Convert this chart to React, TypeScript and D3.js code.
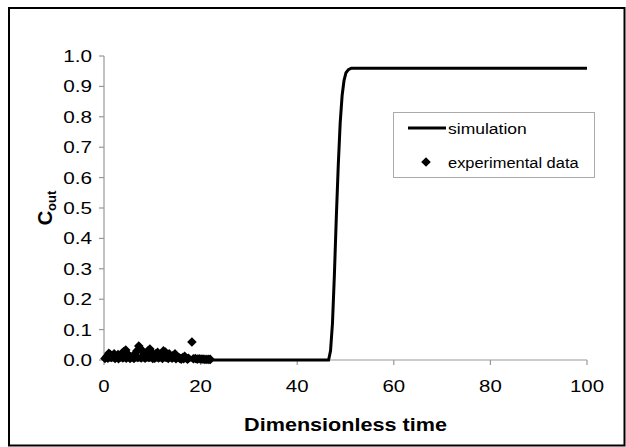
import * as d3 from "d3";
import React from "react";

// simulated outlet concentration
const simTime = [0, 46.5, 46.9, 47.3, 47.7, 48.1, 48.5, 48.9, 49.3, 49.7, 50.1, 50.6, 51.2, 100];
const simValue = [0, 0, 0.03, 0.12, 0.28, 0.47, 0.64, 0.78, 0.87, 0.92, 0.945, 0.955, 0.96, 0.96];

// experimental points
const expTime = [
  0.2, 0.6, 1.0, 1.3, 1.7, 2.1, 2.5, 2.9, 3.3, 3.7, 4.1, 4.5, 4.8, 5.2, 5.6, 6.0, 6.4, 6.8,
  7.2, 7.5, 7.9, 8.3, 8.7, 9.1, 9.5, 9.9, 10.3, 10.7, 11.1, 11.5, 11.9, 12.3, 12.7, 13.1,
  13.5, 13.9, 14.3, 14.7, 15.1, 15.5, 15.9, 16.3, 16.7, 17.1, 17.5, 18.2, 18.5, 18.9, 19.3,
  19.7, 20.1, 20.5, 20.9, 21.3, 21.7, 22.0, 0.8, 1.5, 2.3, 3.0, 3.9, 4.6, 5.4, 6.2, 7.0,
  7.7, 8.5, 9.3, 10.1, 10.5, 11.3, 12.1, 12.9, 13.3, 14.1, 14.9, 15.7, 16.0, 16.5, 17.3,
];
const expValue = [
  0.005, 0.012, 0.022, 0.018, 0.015, 0.02, 0.012, 0.018, 0.01, 0.022, 0.028, 0.033, 0.02,
  0.015, 0.01, 0.012, 0.02, 0.03, 0.046, 0.038, 0.03, 0.022, 0.02, 0.03, 0.036, 0.025, 0.015,
  0.02, 0.025, 0.012, 0.02, 0.03, 0.026, 0.015, 0.02, 0.01, 0.015, 0.02, 0.012, 0.008, 0.005,
  0.008, 0.012, 0.005, 0.006, 0.059, 0.004, 0.005, 0.003, 0.004, 0.003, 0.003, 0.002, 0.002,
  0.002, 0.002, 0.006, 0.008, 0.005, 0.004, 0.007, 0.006, 0.005, 0.005, 0.008, 0.007, 0.006,
  0.008, 0.005, 0.006, 0.007, 0.005, 0.008, 0.005, 0.006, 0.004, 0.005, 0.003, 0.004, 0.003,
];

const xTicks = [0, 20, 40, 60, 80, 100];
const yTicks = [0, 0.1, 0.2, 0.3, 0.4, 0.5, 0.6, 0.7, 0.8, 0.9, 1.0];

const W = 626;
const H = 447;
const font = "'Liberation Sans', Arial, sans-serif";

// text stretched horizontally like the original export
function T(props: {
  x: number;
  y: number;
  size: number;
  sx?: number;
  anchor?: string;
  bold?: boolean;
  children: React.ReactNode;
}) {
  const { x, y, size, sx = 1, anchor = "start", bold, children } = props;
  return (
    <text
      transform={`translate(${x},${y}) scale(${sx},1)`}
      fontSize={size}
      textAnchor={anchor}
      fontWeight={bold ? "bold" : "normal"}
      fill="#000"
    >
      {children}
    </text>
  );
}

export default function App() {
  const x = d3.scaleLinear().domain([0, 100]).range([104, 587]);
  const y = d3.scaleLinear().domain([0, 1]).range([360, 56]);

  const pts = simTime.map((t, i) => [t, simValue[i]] as [number, number]);
  const path = d3
    .line<[number, number]>()
    .x((d) => x(d[0]))
    .y((d) => y(d[1]))(pts);

  const diamond = d3.symbol().type(d3.symbolSquare).size(46)();
  const axisColor = "#999";

  return (
    <svg
      width={W}
      height={H}
      style={{ position: "absolute", left: 0, top: 0, background: "#fff" }}
      fontFamily={font}
    >
      <rect x={9} y={8} width={615.5} height={437.5} fill="none" stroke="#000" strokeWidth={2} />

      {/* axes */}
      <line x1={x(0)} x2={x(100)} y1={y(0)} y2={y(0)} stroke={axisColor} strokeWidth={1.2} />
      <line x1={x(0)} x2={x(0)} y1={y(0)} y2={y(1)} stroke={axisColor} strokeWidth={1.2} />
      {xTicks.map((t) => (
        <g key={"x" + t}>
          <line x1={x(t)} x2={x(t)} y1={y(0)} y2={y(0) + 5} stroke={axisColor} strokeWidth={1.2} />
          <T x={x(t)} y={y(0) + 32} size={17} sx={1.2} anchor="middle">
            {t}
          </T>
        </g>
      ))}
      {yTicks.map((t) => (
        <g key={"y" + t}>
          <line x1={x(0) - 5} x2={x(0)} y1={y(t)} y2={y(t)} stroke={axisColor} strokeWidth={1.2} />
          <T x={92} y={y(t) + 6} size={17} sx={1.22} anchor="end">
            {t.toFixed(1)}
          </T>
        </g>
      ))}

      {/* data */}
      <path d={path ?? ""} fill="none" stroke="#000" strokeWidth={3} />
      {expTime.map((t, i) => (
        <path
          key={"e" + i}
          d={diamond ?? ""}
          transform={`translate(${x(t)},${y(expValue[i])}) rotate(45)`}
          fill="#000"
        />
      ))}

      {/* titles */}
      <T x={(x(0) + x(100)) / 2} y={431} size={18} sx={1.2} anchor="middle" bold>
        Dimensionless time
      </T>
      <text transform="translate(52,208) rotate(-90)" textAnchor="middle" fontWeight="bold" fontSize={20}>
        C<tspan fontSize={13} dy={4}>out</tspan>
      </text>

      {/* legend */}
      <rect x={393.5} y={112.5} width={201} height={65} fill="#fff" stroke="#aaa" strokeWidth={1} />
      <line x1={408} x2={446} y1={128} y2={128} stroke="#000" strokeWidth={3} />
      <T x={448} y={133.5} size={15.5} sx={1.13}>
        simulation
      </T>
      <path d={diamond ?? ""} transform="translate(426,162) rotate(45)" fill="#000" />
      <T x={448} y={167.5} size={15.5} sx={1.06}>
        experimental data
      </T>
    </svg>
  );
}
